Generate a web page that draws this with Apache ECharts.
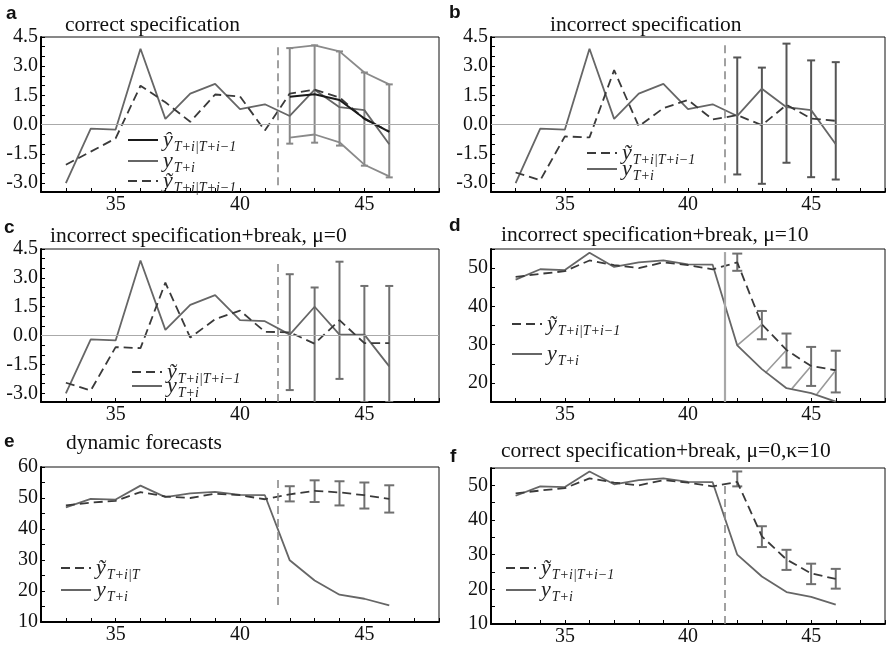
<!DOCTYPE html>
<html>
<head>
<meta charset="utf-8">
<script src="https://cdn.jsdelivr.net/npm/echarts@6/dist/echarts.min.js"></script>
<style>
html, body { margin: 0; padding: 0; background: #fff; }
#chart { width: 888px; height: 647px; }
</style>
</head>
<body>
<div id="chart"></div>
<script>
// time index and forecast horizon
const periods = [33, 34, 35, 36, 37, 38, 39, 40, 41, 42, 43, 44, 45, 46];
const horizon = [42, 43, 44, 45, 46];
const breakPoint = 41.5;

// tick values for the small-scale panels (a, b, c)
const smallTicks = [-3, -2.5, -2, -1.5, -1, -0.5, 0, 0.5, 1, 1.5, 2, 2.5, 3, 3.5, 4, 4.5];
const smallLabels = [-3, -1.5, 0, 1.5, 3, 4.5];

// a: correct specification
const aActual = [-3.0, -0.2, -0.25, 3.9, 0.3, 1.6, 2.1, 0.8, 1.05, 0.45, 1.8, 0.9, 0.75, -1.0];
const aTilde = [-2.05, -1.38, -0.7, 2.0, 1.15, 0.15, 1.55, 1.45, -0.3, 1.6, 1.8, 1.4, 0.3, -0.35];
const aHat = [1.44, 1.56, 1.27, 0.32, -0.37];
const aBandUp = [3.93, 4.07, 3.76, 2.68, 2.07];
const aBandLow = [-0.66, -0.5, -0.9, -2.05, -2.65];
const aBarLow = [-0.97, -0.92, -1.07, -2.1, -2.7];
const aBarHigh = [3.93, 4.07, 3.76, 2.68, 2.07];
const aBreak = [-3.1, 4.0];

// b: incorrect specification
const bActual = [-3.0, -0.2, -0.25, 3.9, 0.3, 1.6, 2.1, 0.8, 1.05, 0.45, 1.85, 0.9, 0.75, -1.0];
const bTilde = [-2.45, -2.85, -0.6, -0.65, 2.8, -0.08, 0.85, 1.27, 0.27, 0.49, -0.02, 1.02, 0.32, 0.2];
const bBarLow = [-2.55, -3.03, -1.95, -2.69, -2.81];
const bBarHigh = [3.45, 2.93, 4.16, 3.3, 3.21];
const bBreak = [-3.0, 4.15];

// c: incorrect specification + break, mu = 0
const cActual = [-3.0, -0.2, -0.25, 3.9, 0.3, 1.6, 2.1, 0.8, 0.75, 0.05, 1.5, 0.05, 0.05, -1.6];
const cTilde = [-2.45, -2.85, -0.6, -0.65, 2.75, -0.1, 0.85, 1.3, 0.2, 0.17, -0.42, 0.8, -0.39, -0.39];
const cBarLow = [-2.83, -3.6, -2.25, -3.45, -3.45];
const cBarHigh = [3.19, 2.5, 3.84, 2.58, 2.58];
const cBreak = [-3.45, 3.95];

// d: incorrect specification + break, mu = 10
const dActual = [47, 49.7, 49.5, 54, 50.3, 51.5, 52, 51, 50.9, 29.8, 23.6, 18.6, 17.3, 15.1];
const dTilde = [47.7, 48.5, 49.2, 52, 50.8, 50, 51.5, 50.8, 49.7, 51.5, 35.3, 28.6, 24.4, 23.3];
const dBarLow = [49.3, 31.4, 24.0, 19.2, 17.5];
const dBarHigh = [53.8, 38.8, 32.9, 29.4, 28.4];
const dLinks = [[42, 29.8], [43, 35.3], null, [43.14, 22.6], [44, 28.6], null, [44.22, 18.5], [45, 24.4], null, [45.23, 17.0], [46, 23.3]];
const dBreak = [15, 54.2];

// e: dynamic forecasts
const eActual = [47, 49.7, 49.5, 54, 50.3, 51.5, 52, 51, 50.9, 29.9, 23.4, 18.8, 17.5, 15.4];
const eTilde = [47.6, 48.5, 49.1, 51.9, 50.5, 50, 51.4, 50.9, 49.6, 51.2, 52.3, 51.8, 50.9, 49.7];
const eBarLow = [48.9, 48.7, 47.6, 46.6, 45.3];
const eBarHigh = [53.8, 55.7, 55.4, 55.0, 54.1];
const eBreak = [15.5, 56];

// f: correct specification + break, mu = 0, kappa = 10
const fActual = [47, 49.7, 49.5, 54, 50.3, 51.5, 52, 51, 50.9, 30, 23.7, 19.2, 17.8, 15.6];
const fTilde = [47.7, 48.5, 49.2, 52, 50.8, 50, 51.5, 50.8, 49.7, 51.0, 35.3, 28.6, 24.6, 23.0];
const fBarLow = [49.7, 32.2, 25.6, 21.5, 20.2];
const fBarHigh = [54.0, 38.2, 31.4, 27.4, 25.9];
const fBreak = [10, 50.4];

const titles = [
  'correct specification',
  'incorrect specification',
  'incorrect specification+break, μ=0',
  'incorrect specification+break, μ=10',
  'dynamic forecasts',
  'correct specification+break, μ=0,κ=10'
];
const letters = ['a', 'b', 'c', 'd', 'e', 'f'];

const legendText = {
  hat: '{m|ŷ}{s|T+i|T+i−1}',
  actual: '{m|y}{s|T+i}',
  tilde: '{m|ỹ}{s|T+i|T+i−1}',
  tildeDyn: '{m|ỹ}{s|T+i|T}'
};

const SERIF = 'Liberation Serif';
const GRAY = '#666';
const DARK = '#3a3a3a';

const grids = [
  { left: 41, top: 37, width: 398, height: 155 },
  { left: 491, top: 37, width: 396, height: 155 },
  { left: 41, top: 249, width: 398, height: 153 },
  { left: 491, top: 249, width: 396, height: 153 },
  { left: 41, top: 467, width: 398, height: 155 },
  { left: 491, top: 468, width: 396, height: 156 }
];

function pairs(xs, ys) {
  return xs.map((x, i) => [x, ys[i]]);
}

function line(name, idx, xs, ys, color, width, dashed) {
  return {
    name: name, type: 'line', xAxisIndex: idx, yAxisIndex: idx,
    data: pairs(xs, ys), symbol: 'none', silent: true, z: 3,
    lineStyle: { color: color, width: width, type: dashed ? [9, 5] : 'solid' },
    itemStyle: { color: color }
  };
}

function errorBars(idx, lows, highs, color, cap) {
  return {
    type: 'custom', xAxisIndex: idx, yAxisIndex: idx, silent: true, clip: true, z: 2,
    data: horizon.map((x, i) => [x, lows[i], highs[i]]),
    encode: { x: 0, y: [1, 2] },
    renderItem: function (params, api) {
      const lo = api.coord([api.value(0), api.value(1)]);
      const hi = api.coord([api.value(0), api.value(2)]);
      const style = { stroke: color, lineWidth: 2 };
      return {
        type: 'group',
        children: [
          { type: 'line', shape: { x1: lo[0], y1: lo[1], x2: hi[0], y2: hi[1] }, style: style },
          { type: 'line', shape: { x1: lo[0] - cap, y1: lo[1], x2: lo[0] + cap, y2: lo[1] }, style: style },
          { type: 'line', shape: { x1: hi[0] - cap, y1: hi[1], x2: hi[0] + cap, y2: hi[1] }, style: style }
        ]
      };
    }
  };
}

function guides(span, dashed, withZero) {
  const data = [[
    { coord: [breakPoint, span[0]] },
    { coord: [breakPoint, span[1]] }
  ]];
  data[0][0].lineStyle = dashed
    ? { color: '#8a8a8a', width: 1.6, type: [8, 5] }
    : { color: '#a8a8a8', width: 2.2, type: 'solid' };
  if (withZero) {
    data.push({ yAxis: 0, lineStyle: { color: '#aaa', width: 1.2, type: 'solid' } });
  }
  return { symbol: ['none', 'none'], silent: true, label: { show: false }, animation: false, data: data };
}

const xAxes = grids.map((g, i) => ({
  gridIndex: i, type: 'value', min: 32, max: 48, interval: 1,
  axisLine: { show: true, onZero: false, lineStyle: { color: '#000', width: 2 } },
  axisTick: { inside: true, length: 4, lineStyle: { color: '#000', width: 1 } },
  axisLabel: {
    margin: 3, fontFamily: SERIF, fontSize: 20, color: '#111',
    formatter: v => (v % 5 === 0 ? String(v) : '')
  },
  splitLine: { show: false }
}));

function smallY(i) {
  return {
    gridIndex: i, type: 'value', min: -3.45, max: 4.5,
    axisLine: { show: true, onZero: false, lineStyle: { color: '#000', width: 2 } },
    axisTick: { show: true, inside: true, length: 4, customValues: smallTicks, lineStyle: { color: '#000' } },
    axisLabel: { margin: 3, fontFamily: SERIF, fontSize: 20, color: '#111', customValues: smallLabels, formatter: v => v.toFixed(1) },
    splitLine: { show: false }
  };
}

function bigY(i, min, max) {
  return {
    gridIndex: i, type: 'value', min: min, max: max, interval: 5,
    axisLine: { show: true, onZero: false, lineStyle: { color: '#000', width: 2 } },
    axisTick: { show: true, inside: true, length: 4, lineStyle: { color: '#000' } },
    axisLabel: { margin: 3, fontFamily: SERIF, fontSize: 20, color: '#111', showMinLabel: true, showMaxLabel: true,
      formatter: v => (v % 10 === 0 ? String(v) : '') },
    splitLine: { show: false }
  };
}

const yAxes = [smallY(0), smallY(1), smallY(2), bigY(3, 15, 55), bigY(4, 10, 60), bigY(5, 10, 55)];

const aY = line('a_actual', 0, periods, aActual, GRAY, 1.8, false);
aY.markLine = guides(aBreak, true, true);
const bY = line('b_actual', 1, periods, bActual, GRAY, 1.8, false);
bY.markLine = guides(bBreak, true, true);
const cY = line('c_actual', 2, periods, cActual, GRAY, 1.8, false);
cY.markLine = guides(cBreak, true, true);
const dY = line('d_actual', 3, periods, dActual, GRAY, 1.8, false);
dY.markLine = guides(dBreak, false, false);
const eY = line('e_actual', 4, periods, eActual, GRAY, 1.8, false);
eY.markLine = guides(eBreak, true, false);
const fY = line('f_actual', 5, periods, fActual, GRAY, 1.8, false);
fY.markLine = guides(fBreak, true, false);

const series = [
  aY,
  line('a_bandUp', 0, horizon, aBandUp, '#8a8a8a', 1.8, false),
  line('a_bandLow', 0, horizon, aBandLow, '#8a8a8a', 1.8, false),
  errorBars(0, aBarLow, aBarHigh, '#888', 3.5),
  line('a_tilde', 0, periods, aTilde, DARK, 1.8, true),
  line('a_hat', 0, horizon, aHat, '#1a1a1a', 2, false),

  bY,
  errorBars(1, bBarLow, bBarHigh, '#555', 4),
  line('b_tilde', 1, periods, bTilde, DARK, 1.8, true),

  cY,
  errorBars(2, cBarLow, cBarHigh, '#707070', 4),
  line('c_tilde', 2, periods, cTilde, DARK, 1.8, true),

  dY,
  {
    type: 'line', xAxisIndex: 3, yAxisIndex: 3, symbol: 'none', silent: true, z: 2,
    data: dLinks.map(p => (p ? p : ['-', '-'])),
    lineStyle: { color: '#9a9a9a', width: 1.6 }
  },
  errorBars(3, dBarLow, dBarHigh, '#707070', 5),
  line('d_tilde', 3, periods, dTilde, DARK, 1.8, true),

  eY,
  errorBars(4, eBarLow, eBarHigh, '#707070', 5),
  line('e_tilde', 4, periods, eTilde, DARK, 1.8, true),

  fY,
  errorBars(5, fBarLow, fBarHigh, '#707070', 5),
  line('f_tilde', 5, periods, fTilde, DARK, 1.8, true)
];

const legendRows = [
  { name: 'a_hat', text: legendText.hat, left: 127, y: 141 },
  { name: 'a_actual', text: legendText.actual, left: 127, y: 162 },
  { name: 'a_tilde', text: legendText.tilde, left: 127, y: 182 },
  { name: 'b_tilde', text: legendText.tilde, left: 586, y: 154 },
  { name: 'b_actual', text: legendText.actual, left: 586, y: 170 },
  { name: 'c_tilde', text: legendText.tilde, left: 131, y: 373 },
  { name: 'c_actual', text: legendText.actual, left: 131, y: 387 },
  { name: 'd_tilde', text: legendText.tilde, left: 511, y: 325 },
  { name: 'd_actual', text: legendText.actual, left: 511, y: 355 },
  { name: 'e_tilde', text: legendText.tildeDyn, left: 60, y: 569 },
  { name: 'e_actual', text: legendText.actual, left: 60, y: 591 },
  { name: 'f_tilde', text: legendText.tilde, left: 505, y: 569 },
  { name: 'f_actual', text: legendText.actual, left: 505, y: 591 }
];

const legends = legendRows.map(r => ({
  left: r.left, top: r.y - 12, padding: 0, itemWidth: 30, itemHeight: 8,
  selectedMode: false, data: [r.name],
  itemStyle: { color: 'transparent', borderColor: 'transparent', borderWidth: 0, opacity: 0 },
  formatter: () => r.text,
  textStyle: {
    color: '#222',
    rich: {
      m: { fontFamily: SERIF, fontStyle: 'italic', fontSize: 22, lineHeight: 22, verticalAlign: 'top', color: '#222' },
      s: { fontFamily: SERIF, fontStyle: 'italic', fontSize: 14, lineHeight: 14, padding: [11, 0, 0, 1], verticalAlign: 'top', color: '#222' }
    }
  }
}));

const titlePos = [[65, 14], [550, 14], [50, 225], [501, 224], [66, 432], [501, 440]];
const letterPos = [[6, 4], [449, 3], [4, 218], [449, 216], [4, 432], [450, 447]];

const graphic = [];
titles.forEach((t, i) => {
  graphic.push({ type: 'text', left: titlePos[i][0], top: titlePos[i][1], silent: true,
    style: { text: t, font: '21.5px "Liberation Serif"', fill: '#111' } });
  graphic.push({ type: 'text', left: letterPos[i][0], top: letterPos[i][1], silent: true,
    style: { text: letters[i], font: 'bold 19px "Liberation Sans"', fill: '#111' } });
});

const chart = echarts.init(document.getElementById('chart'), null, { renderer: 'canvas' });
chart.setOption({
  animation: false,
  backgroundColor: '#fff',
  grid: grids.map(g => Object.assign({ show: true, borderColor: '#111', borderWidth: 1, containLabel: false }, g)),
  xAxis: xAxes,
  yAxis: yAxes,
  legend: legends,
  graphic: graphic,
  series: series
});
</script>
</body>
</html>
